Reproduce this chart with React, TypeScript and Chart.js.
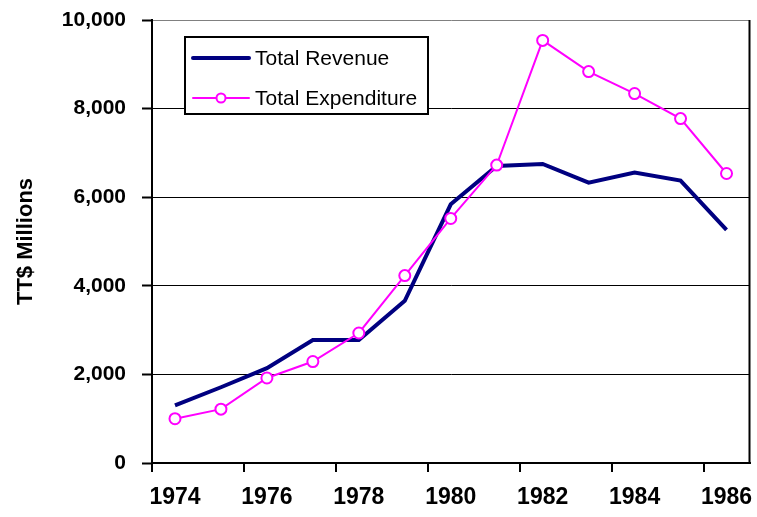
import React, { useEffect, useRef } from "react";
import { Chart, registerables } from "chart.js";

Chart.register(...registerables);

const years = ["1974", "1975", "1976", "1977", "1978", "1979", "1980", "1981", "1982", "1983", "1984", "1985", "1986"];
const totalRevenue = [1300, 1710, 2140, 2775, 2775, 3660, 5840, 6705, 6750, 6330, 6555, 6375, 5265];
const totalExpenditure = [1000, 1215, 1920, 2290, 2935, 4230, 5520, 6725, 9540, 8835, 8340, 7775, 6535];
const yTicks = [0, 2000, 4000, 6000, 8000, 10000];
const yTitle = "TT$ Millions";
const seriesNames = ["Total Revenue", "Total Expenditure"];

const FONT = "'Liberation Sans', Arial, sans-serif";

const framePlugin = {
  id: "frameAndLegend",
  afterDraw(chart: any) {
    const { ctx, chartArea: a } = chart;
    ctx.save();
    // right border of plot area
    ctx.strokeStyle = "#000";
    ctx.lineWidth = 2;
    ctx.beginPath();
    ctx.moveTo(a.right, a.top);
    ctx.lineTo(a.right, a.bottom);
    ctx.stroke();

    // legend box
    const lx = a.left + 33;
    const ly = a.top + 17;
    const lw = 243;
    const lh = 77;
    ctx.fillStyle = "#fff";
    ctx.fillRect(lx, ly, lw, lh);
    ctx.strokeStyle = "#000";
    ctx.lineWidth = 2;
    ctx.strokeRect(lx, ly, lw, lh);

    const ds = chart.data.datasets;
    const rows = [ly + 21, ly + 61];
    const sx0 = lx + 8;
    const sx1 = lx + 64;
    ctx.font = `21px ${FONT}`;
    ctx.textBaseline = "middle";
    ctx.textAlign = "left";
    ds.forEach((d: any, i: number) => {
      const y = rows[i];
      ctx.strokeStyle = d.borderColor;
      ctx.lineWidth = d.borderWidth;
      ctx.lineCap = "round";
      ctx.beginPath();
      ctx.moveTo(sx0, y);
      ctx.lineTo(sx1, y);
      ctx.stroke();
      if (d.pointRadius > 0) {
        ctx.fillStyle = "#fff";
        ctx.lineWidth = d.pointBorderWidth;
        ctx.beginPath();
        ctx.arc((sx0 + sx1) / 2, y, 4.5, 0, Math.PI * 2);
        ctx.fill();
        ctx.stroke();
      }
      ctx.fillStyle = "#000";
      ctx.fillText(d.label, lx + 70, y + 1);
    });
    ctx.restore();
  },
};

export default function App() {
  const ref = useRef<HTMLCanvasElement>(null);

  useEffect(() => {
    if (!ref.current) return;
    const chart = new Chart(ref.current, {
      type: "line",
      data: {
        labels: years,
        datasets: [
          {
            label: seriesNames[0],
            data: totalRevenue,
            borderColor: "#000080",
            backgroundColor: "#000080",
            borderWidth: 4,
            pointRadius: 0,
            pointHoverRadius: 0,
            tension: 0,
            order: 1,
          },
          {
            label: seriesNames[1],
            data: totalExpenditure,
            borderColor: "#FF00FF",
            backgroundColor: "#ffffff",
            borderWidth: 2,
            pointRadius: 5.5,
            pointBorderWidth: 2,
            pointBackgroundColor: "#ffffff",
            pointBorderColor: "#FF00FF",
            tension: 0,
            order: 0,
          },
        ],
      },
      options: {
        responsive: false,
        animation: false,
        layout: { padding: { top: 20, right: 6, left: 0, bottom: 0 } },
        plugins: {
          legend: { display: false },
          tooltip: { enabled: false },
        },
        scales: {
          x: {
            type: "category",
            offset: true,
            afterFit: (s: any) => {
              s.height = 54;
              s.paddingLeft = 0;
              s.paddingRight = 0;
            },
            border: { display: true, color: "#000", width: 2 },
            grid: {
              offset: true,
              drawOnChartArea: false,
              drawTicks: true,
              tickLength: 9,
              lineWidth: 2,
              color: (c: any) =>
                typeof c.index === "number" && c.index % 2 === 0 ? "#000" : "rgba(0,0,0,0)",
            },
            ticks: {
              autoSkip: false,
              maxRotation: 0,
              minRotation: 0,
              padding: 12,
              color: "#000",
              font: { family: FONT, size: 23, weight: "bold" },
              callback: (_v: any, i: number) => (i % 2 === 0 ? years[i] : ""),
            },
          },
          y: {
            min: yTicks[0],
            max: yTicks[yTicks.length - 1],
            afterFit: (s: any) => {
              s.width = 152;
              s.paddingTop = 0;
              s.paddingBottom = 0;
            },
            afterBuildTicks: (s: any) => {
              s.ticks = yTicks.map((v) => ({ value: v }));
            },
            border: { display: true, color: "#000", width: 2 },
            grid: {
              drawTicks: true,
              tickLength: 10,
              lineWidth: 1,
              tickWidth: 2,
              tickColor: "#000",
              color: (c: any) => (c.tick && c.tick.value === 10000 ? "#808080" : "#000"),
            },
            ticks: {
              padding: 16,
              color: "#000",
              font: { family: FONT, size: 21, weight: "bold" },
              callback: (v: any) => Number(v).toLocaleString("en-US"),
            },
            title: {
              display: true,
              text: yTitle,
              color: "#000",
              font: { family: FONT, size: 22, weight: "bold" },
              padding: { top: 13, bottom: 0 },
            },
          },
        },
      },
      plugins: [framePlugin],
    });
    return () => chart.destroy();
  }, []);

  return (
    <canvas
      ref={ref}
      width={757}
      height={517}
      style={{ position: "fixed", left: 0, top: 0, width: 757, height: 517 }}
    />
  );
}
